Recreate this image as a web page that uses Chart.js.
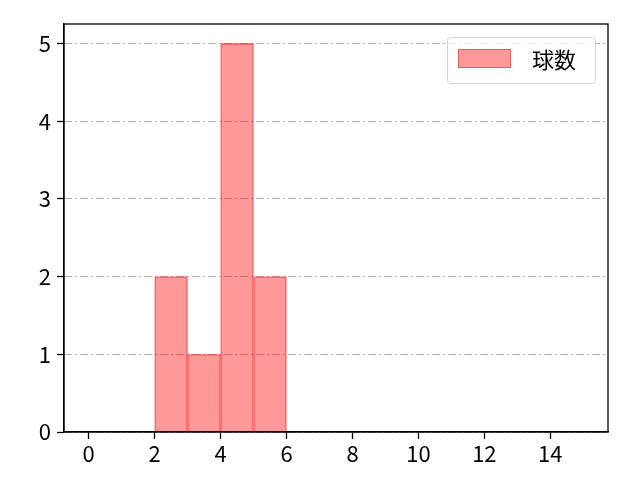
<!DOCTYPE html>
<html>
<head>
<meta charset="utf-8">
<script src="https://cdn.jsdelivr.net/npm/chart.js@4"></script>
<style>
html,body{margin:0;padding:0;background:#fff;}
#wrap{width:640px;height:480px;}
</style>
</head>
<body>
<div id="wrap"><canvas id="c" width="640" height="480"></canvas></div>
<script>
const seriesLabel = '球数';
const binStarts = [2, 3, 4, 5];
const binWidth = 1;
const counts = [2, 1, 5, 2];
const xTicks = [0, 2, 4, 6, 8, 10, 12, 14];
const yTicks = [0, 1, 2, 3, 4, 5];
const xMin = -0.75, xMax = 15.75;
const yMin = 0, yMax = 5.25;

const FONT = '"Noto Sans CJK JP", "DejaVu Sans", sans-serif';

const points = binStarts.map((s, i) => ({x: s + binWidth / 2, y: counts[i]}));

const framePlugin = {
  id: 'frame',
  afterDraw(chart) {
    const {ctx, chartArea: a} = chart;
    ctx.save();
    ctx.strokeStyle = '#000';
    ctx.lineWidth = 1.3;
    ctx.strokeRect(a.left, a.top, a.right - a.left, a.bottom - a.top);
    // legend
    const ds = chart.data.datasets[0];
    const bx = 447.5, by = 37.5, bw = 148, bh = 46;
    ctx.fillStyle = 'rgba(255,255,255,0.8)';
    ctx.strokeStyle = '#d6d6d6';
    ctx.lineWidth = 1;
    ctx.beginPath();
    if (ctx.roundRect) ctx.roundRect(bx, by, bw, bh, 3); else ctx.rect(bx, by, bw, bh);
    ctx.fill();
    ctx.stroke();
    ctx.fillStyle = ds.backgroundColor;
    ctx.fillRect(458, 49, 53, 19);
    ctx.strokeStyle = ds.borderColor;
    ctx.strokeRect(458.5, 49.5, 52, 18);
    ctx.fillStyle = '#000';
    ctx.font = '22px ' + FONT;
    ctx.textBaseline = 'middle';
    ctx.textAlign = 'left';
    ctx.fillText(ds.label, 532, 60);
    ctx.restore();
  }
};

new Chart(document.getElementById('c'), {
  type: 'bar',
  data: {
    datasets: [{
      label: seriesLabel,
      data: points,
      backgroundColor: 'rgba(255,0,0,0.4)',
      borderColor: 'rgba(255,0,0,0.45)',
      borderWidth: 1,
      barPercentage: 1,
      categoryPercentage: 1,
      grouped: false
    }]
  },
  options: {
    responsive: false,
    animation: false,
    devicePixelRatio: 1,
    layout: {padding: {left: 0, right: 32, top: 24, bottom: 0}},
    plugins: {legend: {display: false}, tooltip: {enabled: false}},
    scales: {
      x: {
        type: 'linear',
        offset: false,
        min: xMin, max: xMax,
        afterBuildTicks(s) { s.ticks = xTicks.map(v => ({value: v})); },
        afterFit(s) { s.height = 48; },
        grid: {display: true, offset: false, drawOnChartArea: false, drawTicks: true, tickLength: 7, tickColor: '#000', tickWidth: 1.3},
        border: {display: true, color: '#000', width: 1.3},
        ticks: {color: '#000', font: {family: FONT, size: 22}, padding: 1, maxRotation: 0, autoSkip: false}
      },
      y: {
        type: 'linear',
        min: yMin, max: yMax,
        afterBuildTicks(s) { s.ticks = yTicks.map(v => ({value: v})); },
        afterFit(s) { s.width = 64; },
        grid: {display: true, drawOnChartArea: true, drawTicks: true, tickLength: 7, color: '#b0b0b0', lineWidth: 1, tickColor: '#000', tickWidth: 1.3, tickBorderDash: []},
        border: {display: true, color: '#000', width: 1.3, dash: [8, 3, 2, 3]},
        ticks: {color: '#000', font: {family: FONT, size: 22}, padding: 6}
      }
    }
  },
  plugins: [framePlugin]
});
</script>
</body>
</html>
